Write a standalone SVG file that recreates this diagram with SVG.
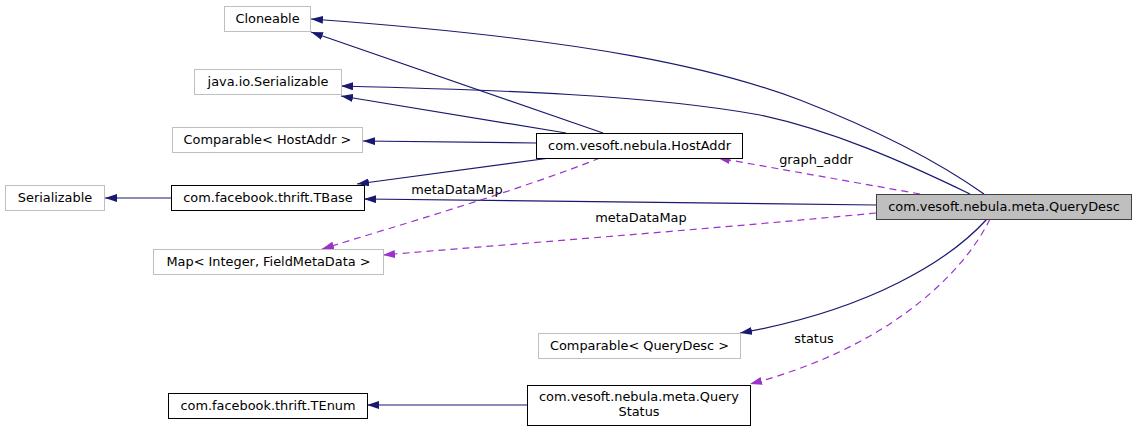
<svg xmlns="http://www.w3.org/2000/svg" width="1136" height="431" viewBox="0 0 1136 431">
<style>
text{font-family:"DejaVu Sans",sans-serif;font-size:12.9px;fill:#000;text-anchor:middle}
.u rect{fill:#fff;stroke:#bfbfbf;stroke-width:1}
.d rect{fill:#fff;stroke:#000;stroke-width:1}
.m rect{fill:#bfbfbf;stroke:#404040;stroke-width:1}
.inh{fill:none;stroke:#191970;stroke-width:1.2}
.use{fill:none;stroke:#9a32cd;stroke-width:1.2;stroke-dasharray:7,5}
</style>
<defs>
<marker id="ai" viewBox="0 0 12 8" refX="12" refY="4" markerWidth="12" markerHeight="8" orient="auto" markerUnits="userSpaceOnUse"><path d="M0,0 L12,4 L0,8 z" fill="#191970"/></marker>
<marker id="au" viewBox="0 0 12 8" refX="12" refY="4" markerWidth="12" markerHeight="8" orient="auto" markerUnits="userSpaceOnUse"><path d="M0,0 L12,4 L0,8 z" fill="#9a32cd"/></marker>
</defs>
<g id="connectors">
<path class="inh" marker-end="url(#ai)" d="M984,194 C950,170 890,135 800,100 C720,70 600,40 311,19"/>
<path class="inh" marker-end="url(#ai)" d="M603,133 L311,32"/>
<path class="inh" marker-end="url(#ai)" d="M970,194 C900,160 830,130 760,115 C650,95 500,90 341,86"/>
<path class="inh" marker-end="url(#ai)" d="M566,133 L341,96"/>
<path class="inh" marker-end="url(#ai)" d="M536,143 L363,141"/>
<path class="inh" marker-end="url(#ai)" d="M550,158 L357,184"/>
<path class="inh" marker-end="url(#ai)" d="M876,205 L364,199"/>
<path class="inh" marker-end="url(#ai)" d="M171,198 L105,198"/>
<path class="use" marker-end="url(#au)" d="M920,194 L718,158"/>
<text x="816" y="164">graph_addr</text>
<path class="use" marker-end="url(#au)" d="M600,158 C520,190 400,225 322,249"/>
<text x="457" y="194">metaDataMap</text>
<path class="use" marker-end="url(#au)" d="M876,213 C700,230 500,245 383,255"/>
<text x="641" y="222">metaDataMap</text>
<path class="inh" marker-end="url(#ai)" d="M987,219 C950,260 870,310 740,333"/>
<path class="use" marker-end="url(#au)" d="M990,219 C960,280 880,350 750,384"/>
<text x="814" y="343">status</text>
<path class="inh" marker-end="url(#ai)" d="M527,405 L367,405"/>
</g>
<g id="node_cloneable" class="u"><rect x="224.5" y="6.5" width="86" height="25"/><text x="267.5" y="23">Cloneable</text></g>
<g id="node_javaioserializable" class="u"><rect x="194.5" y="69.5" width="147" height="25"/><text x="268" y="86">java.io.Serializable</text></g>
<g id="node_comparablehostaddr" class="u"><rect x="172.5" y="127.5" width="190" height="25"/><text x="267.5" y="144">Comparable&lt; HostAddr &gt;</text></g>
<g id="node_hostaddr" class="d"><rect x="536.5" y="133.5" width="206" height="25"/><text x="639.5" y="150">com.vesoft.nebula.HostAddr</text></g>
<g id="node_serializable" class="u"><rect x="5.5" y="185.5" width="99" height="25"/><text x="55" y="202">Serializable</text></g>
<g id="node_tbase" class="d"><rect x="171.5" y="185.5" width="193" height="25"/><text x="268" y="202">com.facebook.thrift.TBase</text></g>
<g id="node_map" class="u"><rect x="153.5" y="249.5" width="230" height="25"/><text x="268.5" y="266">Map&lt; Integer, FieldMetaData &gt;</text></g>
<g id="node_querydesc" class="m"><rect x="876.5" y="194.5" width="255" height="25"/><text x="1004" y="211">com.vesoft.nebula.meta.QueryDesc</text></g>
<g id="node_comparablequerydesc" class="u"><rect x="538.5" y="333.5" width="202" height="25"/><text x="639.5" y="350">Comparable&lt; QueryDesc &gt;</text></g>
<g id="node_tenum" class="d"><rect x="168.5" y="393.5" width="199" height="25"/><text x="268" y="410">com.facebook.thrift.TEnum</text></g>
<g id="node_querystatus" class="d"><rect x="527.5" y="385.5" width="223" height="40"/><text x="639" y="401">com.vesoft.nebula.meta.Query</text><text x="639" y="416">Status</text></g>
</svg>
